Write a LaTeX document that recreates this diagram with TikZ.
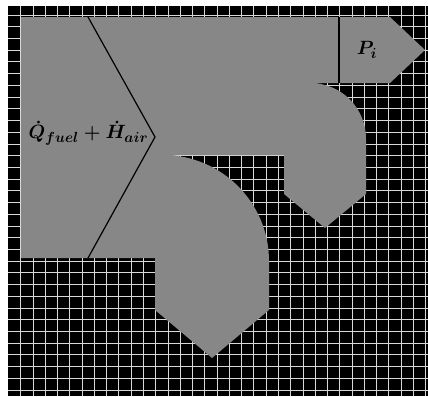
\documentclass[tikz,border=0pt]{standalone}
\usepackage{tikz}
\tikzset{
  panel/.style={fill=black, draw=none},
  gridline/.style={draw=white!85!black, line width=0.6pt},
  flow/.style={fill=black!47, draw=none},
  divider/.style={draw=black, line width=0.9pt, line join=miter},
  flowlabel/.style={font=\fontsize{15}{18}\selectfont\boldmath, inner sep=0pt},
}
\begin{document}
\begin{tikzpicture}[x=0.75pt, y=-0.75pt]
\useasboundingbox (0,0) rectangle (428,396);
\fill[white] (0,0) rectangle (428,396);
\fill[panel] (8,6) rectangle (428,396);
\foreach \gx in {0,...,33}
  \draw[gridline] ({20.7+12.27*\gx},6) -- ++(0,390);
\foreach \gy in {-1,...,31}
  \draw[gridline] (8,{26.7+11.72*\gy}) -- ++(420,0);
\fill[flow] (21,17) -- (390,17) -- (425,50) -- (390,83) -- (310,83)
  .. controls (341.5,83) and (366,108) .. (366,139) -- (366,194) -- (325,228)
  -- (284,194) -- (284,155) -- (163,155)
  .. controls (221.5,155) and (269,202.5) .. (269,261) -- (269,310) -- (212,358)
  -- (155,310) -- (155,258) -- (21,258) -- cycle;
\draw[divider] (88,17) -- (155,137) -- (88,258);
\draw[divider] (339,17) -- (339,83);
\node[flowlabel] (qin) at (88.5,133) {$\dot{Q}_{fuel} + \dot{H}_{air}$};
\node[flowlabel] (pout) at (367,50) {$P_{i}$};
\end{tikzpicture}
\end{document}
